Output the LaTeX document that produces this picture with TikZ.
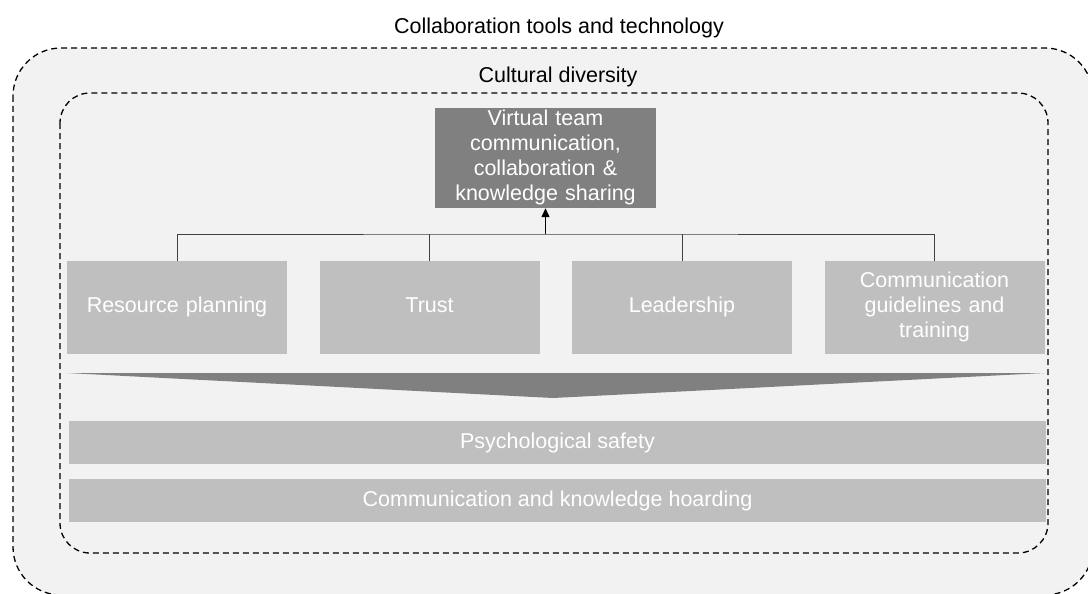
\documentclass[tikz,border=0pt]{standalone}
\usepackage{fontspec}
\setmainfont{Liberation Sans}
\usetikzlibrary{positioning,arrows.meta}
\definecolor{bgGray}{HTML}{F2F2F2}
\definecolor{boxGray}{HTML}{BFBFBF}
\definecolor{darkGray}{HTML}{808080}
\begin{document}
\begin{tikzpicture}[x=1pt,y=-1pt,
  txt/.style={font=\fontsize{21.5}{25}\selectfont},
  frame/.style={draw=black,dash pattern=on 6pt off 4pt,line width=1.3pt,fill=bgGray},
  fbox/.style={fill=boxGray,text=white,minimum width=220pt,minimum height=93pt,align=center,inner sep=0pt,text width=214pt,txt,
    execute at begin node=\strut,execute at end node=\strut},
  bar/.style={fill=boxGray,text=white,minimum width=977pt,minimum height=43pt,inner sep=0pt,txt,text height=15.5pt,text depth=4.5pt},
  link/.style={draw=black!75,line width=0.9pt},
  node distance=252.5pt]
\useasboundingbox (0,0) rectangle (1088,594);
\draw[frame,rounded corners=48pt] (13,48) rectangle (1093,595);
\draw[frame,rounded corners=30pt] (60,93) rectangle (1048,553);
\node[txt,anchor=base](NT1) at (559,34){Collaboration tools and technology};
\node[txt,anchor=base](NT2) at (558,83){Cultural diversity};
\node[fbox,fill=darkGray,minimum width=221pt,minimum height=100pt](NR0) at (545.5,158){Virtual team\\communication,\\collaboration \&\\knowledge sharing};
\node[fbox](NR1) at (177,307.5){Resource planning};
\node[fbox,right of = NR1](NR2){Trust};
\node[fbox,right of = NR2](NR3){Leadership};
\node[fbox,right of = NR3](NR4){Communication\\guidelines and\\training};
\coordinate(NC) at (NR0.south |- 0,234);
\draw[link] (NR1.north) |- (NC) -| (NR4.north);
\draw[link] (NR2.north) -- (NR2.north |- NC);
\draw[link] (NR3.north) -- (NR3.north |- NC);
\draw[-{Triangle[length=9pt,width=8pt]},line width=1.2pt] (NC) -- (NR0.south);
\fill[darkGray] (NR1.south west |- 0,373) -- (NR4.south east |- 0,373) -- (553,398) -- cycle;
\node[bar](NB1) at (557.5,442.5){Psychological safety};
\node[bar,below of = NB1,node distance=58pt](NB2){Communication and knowledge hoarding};
\end{tikzpicture}
\end{document}
